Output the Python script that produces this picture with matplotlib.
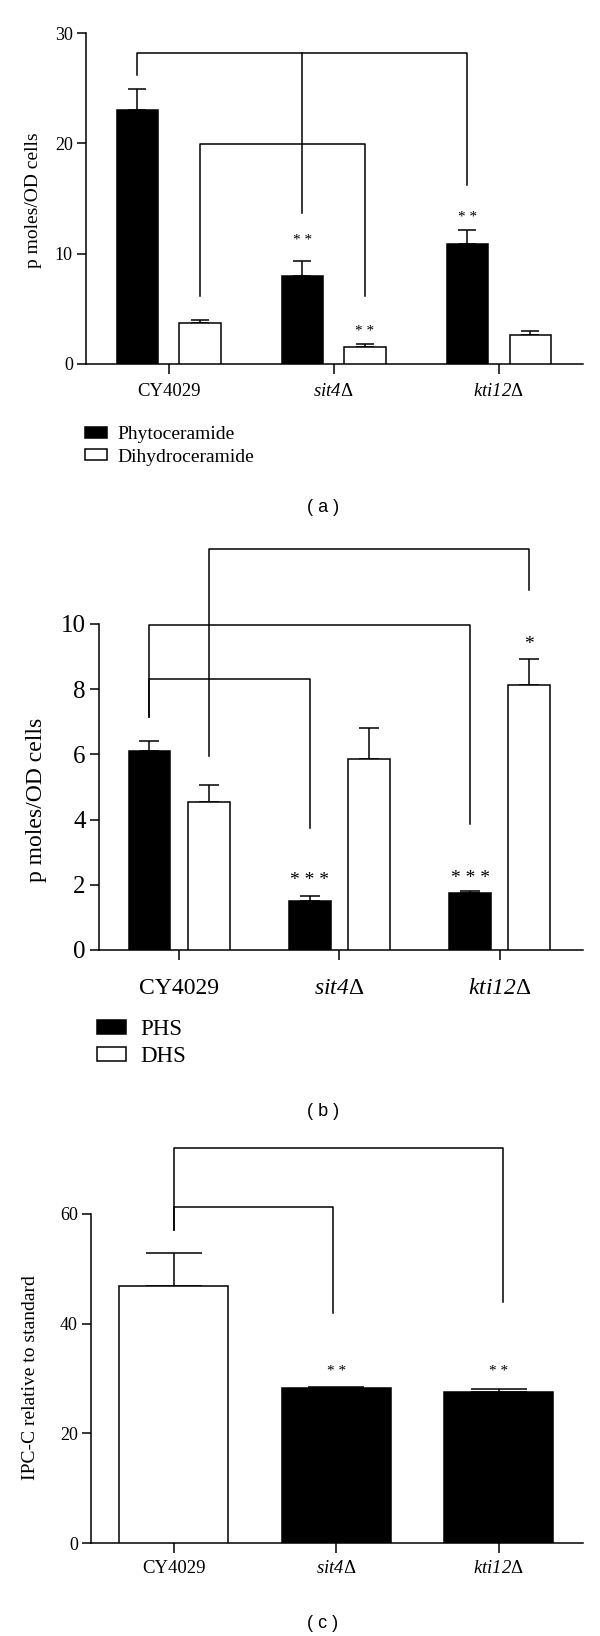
import matplotlib
matplotlib.use('Agg')
import matplotlib.pyplot as plt
import numpy as np
from matplotlib.patches import Patch

plt.rcParams['font.family'] = ['Liberation Serif', 'DejaVu Serif']
plt.rcParams['mathtext.fontset'] = 'custom'
plt.rcParams['mathtext.rm'] = 'Liberation Serif:italic'
plt.rcParams['mathtext.it'] = 'Liberation Serif:italic'

# data
strains = ['CY4029', '$sit4$Δ', '$kti12$Δ']

phyto = [23.0, 7.96, 10.9]
phyto_err = [1.9, 1.36, 1.24]
dihydro = [3.68, 1.57, 2.62]
dihydro_err = [0.30, 0.24, 0.36]

phs = [6.09, 1.50, 1.76]
phs_err = [0.32, 0.16, 0.04]
dhs = [4.53, 5.85, 8.14]
dhs_err = [0.53, 0.95, 0.79]

ipc = [46.9, 28.3, 27.6]
ipc_err = [6.0, 0.2, 0.5]
ipc_colors = ['white', 'black', 'black']

W, H = 600, 1636
LW = 1.1


def px_axes(fig, left, right, top, bottom):
    return fig.add_axes([left / W, 1 - bottom / H, (right - left) / W, (bottom - top) / H])


def style(ax, ymax, ticks, ysize, xsize, xpad):
    ax.set_ylim(0, ymax)
    ax.set_yticks(ticks)
    ax.spines['top'].set_visible(False)
    ax.spines['right'].set_visible(False)
    ax.spines['left'].set_linewidth(LW)
    ax.spines['bottom'].set_linewidth(LW)
    ax.tick_params(axis='y', direction='out', length=6.5, width=LW, labelsize=ysize, pad=3)
    ax.tick_params(axis='x', direction='out', length=7, width=LW, labelsize=xsize, pad=xpad)
    ax.set_xticks(range(3))
    ax.set_xticklabels(strains)


def bracket(ax, x1, x2, y, y1, y2):
    ax.plot([x1, x1, x2, x2], [y1, y, y, y2], color='k', lw=LW, clip_on=False)


def stars(ax, xs, ys, s, size):
    for xx, yy in zip(xs, ys):
        ax.text(xx, yy, ' '.join(s), ha='center', va='center', fontsize=size)


fig = plt.figure(figsize=(W / 100, H / 100), dpi=100)
x = np.arange(3)
handles = [Patch(facecolor='black', edgecolor='black', lw=LW),
           Patch(facecolor='white', edgecolor='black', lw=LW)]

# ---------------- (a)
ax = px_axes(fig, 86, 583, 33, 364)
off, bw = 0.19, 0.25
ax.bar(x - off, phyto, bw, color='black', edgecolor='black', lw=LW, zorder=3)
ax.bar(x + off, dihydro, bw, color='white', edgecolor='black', lw=LW, zorder=3)
ax.errorbar(x - off, phyto, yerr=[np.zeros(3), phyto_err], fmt='none', ecolor='k',
            elinewidth=LW, capsize=6.8, capthick=LW, zorder=2)
ax.errorbar(x + off, dihydro, yerr=[np.zeros(3), dihydro_err], fmt='none', ecolor='k',
            elinewidth=LW, capsize=6.8, capthick=LW, zorder=2)
ax.set_xlim(-0.5, 2.51)
style(ax, 30, [0, 10, 20, 30], 13, 13.5, 7)
bracket(ax, -off, 2 - off, 28.2, 26.2, 16.2)
ax.plot([1 - off, 1 - off], [28.2, 13.66], color='k', lw=LW)
bracket(ax, off, 1 + off, 19.9, 6.15, 6.15)
stars(ax, [1 - off, 2 - off, 1 + off], [11.15, 13.27, 2.92], '**', 11)
ax.legend(handles, ['Phytoceramide', 'Dihydroceramide'], loc='upper left',
          bbox_to_anchor=(85 / W, 1 - 426 / H), bbox_transform=fig.transFigure,
          frameon=False, fontsize=14, borderpad=0, borderaxespad=0,
          handlelength=1.15, handleheight=0.5, handletextpad=0.5, labelspacing=0.3)
fig.text(33 / W, 1 - 200 / H, 'p moles/OD cells', rotation=90, ha='center', va='center', fontsize=14)
fig.text(323 / W, 1 - 507 / H, '( a )', ha='center', va='center', fontsize=13, family='Liberation Sans')

# ---------------- (b)
ax = px_axes(fig, 99, 583, 624, 950)
off, bw = 0.185, 0.26
ax.bar(x - off, phs, bw, color='black', edgecolor='black', lw=LW, zorder=3)
ax.bar(x + off, dhs, bw, color='white', edgecolor='black', lw=LW, zorder=3)
ax.errorbar(x - off, phs, yerr=[np.zeros(3), phs_err], fmt='none', ecolor='k',
            elinewidth=LW, capsize=7, capthick=LW, zorder=2)
ax.errorbar(x + off, dhs, yerr=[np.zeros(3), dhs_err], fmt='none', ecolor='k',
            elinewidth=LW, capsize=7, capthick=LW, zorder=2)
ax.set_xlim(-0.5, 2.52)
style(ax, 10, [0, 2, 4, 6, 8, 10], 18, 17, 13)
bracket(ax, off, 2 + off, 12.3, 5.94, 11.04)
bracket(ax, -off, 2 - off, 9.96, 7.16, 3.85)
bracket(ax, -off, 1 - off, 8.32, 7.16, 3.73)
stars(ax, [1 - off, 2 - off], [2.13, 2.19], '***', 14)
stars(ax, [2 + off], [9.37], '*', 14)
ax.legend(handles, ['PHS', 'DHS'], loc='upper left',
          bbox_to_anchor=(97 / W, 1 - 1019 / H), bbox_transform=fig.transFigure,
          frameon=False, fontsize=16.5, borderpad=0, borderaxespad=0,
          handlelength=1.25, handleheight=0.55, handletextpad=0.65, labelspacing=0.25)
fig.text(37 / W, 1 - 800 / H, 'p moles/OD cells', rotation=90, ha='center', va='center', fontsize=17)
fig.text(323 / W, 1 - 1111 / H, '( b )', ha='center', va='center', fontsize=13, family='Liberation Sans')

# ---------------- (c)
ax = px_axes(fig, 91, 583, 1214, 1543)
ax.bar(x, ipc, 0.67, color=ipc_colors, edgecolor='black', lw=LW, zorder=3)
ax.errorbar(x, ipc, yerr=[np.zeros(3), ipc_err], fmt='none', ecolor='k',
            elinewidth=LW, capsize=20, capthick=LW, zorder=2)
ax.set_xlim(-0.51, 2.52)
style(ax, 60, [0, 20, 40, 60], 13, 13.5, 5)
bracket(ax, 0, 2.03, 72.0, 57.1, 43.9)
bracket(ax, 0, 0.98, 61.25, 57.1, 42.0)
stars(ax, [1, 2], [31.2, 31.2], '**', 11)
fig.text(31 / W, 1 - 1378 / H, 'IPC-C relative to standard', rotation=90, ha='center', va='center', fontsize=14)
fig.text(323 / W, 1 - 1624 / H, '( c )', ha='center', va='center', fontsize=13, family='Liberation Sans')

fig.savefig('out.png', dpi=100, facecolor='white')
